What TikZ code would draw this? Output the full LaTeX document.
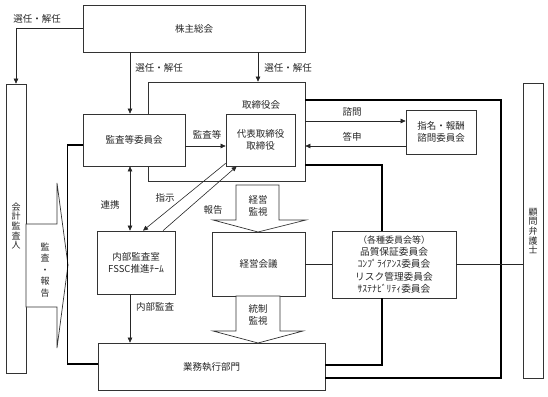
\documentclass[tikz,border=0pt]{standalone}
\usepackage{fontspec}
\setmainfont{Noto Sans CJK JP}
\usetikzlibrary{arrows.meta,calc}
\begin{document}
\begin{tikzpicture}[x=1pt,y=-1pt,
  every node/.style={text=black!85},
  base/.style={font=\fontsize{9.5}{12}\selectfont},
  box/.style={draw=black!80,line width=0.7pt,fill=white,inner sep=0pt,align=center,base},
  lbl/.style={inner sep=0pt,align=center,base},
  vtext/.style={inner sep=0pt,align=center,font=\fontsize{9}{9.6}\selectfont},
  ln/.style={draw=black!85,line width=0.6pt},
  arr/.style={ln,-{Triangle[length=5pt,width=4.5pt]}},
  dblarr/.style={ln,{Triangle[length=5pt,width=4.5pt]}-{Triangle[length=5pt,width=4.5pt]}},
  thk/.style={draw=black,line width=1.5pt},
  blk/.style={draw=black!80,line width=0.7pt,fill=white}
]
\useasboundingbox (0,0) rectangle (548,396);

% boxes
\node[box,minimum width=222pt,minimum height=47pt] (sh) at (194,28.5) {株主総会};
\node[box,minimum width=20pt,minimum height=289pt] (kaikei) at (16,228.5) {};
\node[vtext] (kaikeiT) at (16,226) {会\\計\\監\\査\\人};
\node[box,minimum width=157pt,minimum height=99pt] (tori) at (226.5,131.5) {};
\node[lbl] (toriT) at (261,105) {取締役会};
\node[box,minimum width=102pt,minimum height=52pt] (kansa) at (134,140) {監査等委員会};
\node[box,minimum width=69pt,minimum height=52pt] (daihyo) at (260.5,140) {代表取締役\\取締役};
\node[box,minimum width=70pt,minimum height=44pt] (shimei) at (441,132) {指名・報酬\\諮問委員会};
\node[box,minimum width=78pt,minimum height=63pt] (naibu) at (136,262.5) {内部監査室\\FSSC推進ﾁｰﾑ};
\node[box,minimum width=93pt,minimum height=64pt] (keiei) at (258.5,264) {経営会議};
\node[box,minimum width=124pt,minimum height=67pt,font=\fontsize{9.7}{12.3}\selectfont] (kakushu) at (394,264.5)
  {{\fontsize{9}{12.3}\selectfont （各種委員会等）}\\品質保証委員会\\ｺﾝﾌﾟﾗｲｱﾝｽ委員会\\リスク管理委員会\\ｻｽﾃﾅﾋﾞﾘﾃｨ委員会};
\node[box,minimum width=227pt,minimum height=47pt] (gyomu) at (211.5,366.5) {業務執行部門};
\node[box,minimum width=20pt,minimum height=295pt] (komon) at (533,230.5) {};
\node[vtext] (komonT) at (533,231) {顧\\問\\弁\\護\\士};

% block arrows
\draw[blk] (236,185) -- (279,185) -- (279,220) -- (306,220) -- (258,232) -- (213,220) -- (236,220) -- cycle;
\node[lbl] (keieikanshi) at (258,205.5) {経営\\監視};
\draw[blk] (236,296) -- (280,296) -- (280,331) -- (303,331) -- (258,343) -- (213,331) -- (236,331) -- cycle;
\draw[blk] (26,224) -- (57,224) -- (57,183) -- (68,265) -- (57,348) -- (57,307) -- (26,307) -- cycle;
\node[lbl] (toseikanshi) at (258,315) {統制\\監視};
\node[vtext,font=\fontsize{9}{11.4}\selectfont] (kansahoukoku) at (45,270) {監\\査\\・\\報\\告};

% arrows from shareholders
\draw[arr] (sh.west) -| (kaikei.north);
\node[lbl] (l1) at (37,19) {選任・解任};
\draw[arr] ([xshift=-4pt]kansa.north |- sh.south) -- ([xshift=-4pt]kansa.north);
\node[lbl] (l2) at (159,68) {選任・解任};
\draw[arr] (258,0 |- sh.south) -- (258,0 |- tori.north);
\node[lbl] (l3) at (288,68) {選任・解任};

% board relations
\draw[arr] ([yshift=-6pt]kansa.east) -- ([yshift=-6pt]kansa.east -| daihyo.west);
\node[lbl] (l4) at (207,135) {監査等};
\draw[arr] ([yshift=11pt]shimei.west -| tori.east) -- ([yshift=11pt]shimei.west);
\node[lbl] (l5) at (352,112) {諮問};
\draw[arr] ([yshift=-14pt]shimei.west) -- ([yshift=-14pt]shimei.west -| tori.east);
\node[lbl] (l6) at (352,137) {答申};

% internal audit
\draw[dblarr] ([xshift=-4pt]kansa.south) -- ([xshift=-4pt]kansa.south |- naibu.north);
\node[lbl] (l7) at (110,205) {連携};
\draw[arr] ([yshift=3pt]daihyo.south west) -- ([xshift=7pt]naibu.north);
\node[lbl] (l8) at (165,198) {指示};
\draw[arr] ([xshift=27pt]naibu.north) -- ([xshift=11pt]daihyo.south west);
\node[lbl] (l9) at (213,210) {報告};
\draw[arr] ([xshift=-6pt]naibu.south) -- ([xshift=-6pt]naibu.south |- gyomu.north);
\node[lbl] (l10) at (155,307) {内部監査};

% thick lines
\coordinate (rr) at (501,100);
\draw[thk] ([yshift=-5pt]kansa.west) -- ++(-15,0) |- ([yshift=2.5pt]gyomu.west);
\draw[thk] ([yshift=31.5pt]tori.east) -- (rr) |- ([yshift=-11.5pt]gyomu.east);
\draw[thk] ([yshift=-33.5pt]tori.east) -| ([xshift=-12pt]kakushu.north);
\draw[thk] ([xshift=-12pt]kakushu.south) |- ([yshift=1.5pt]gyomu.east);

% thin lines
\draw[ln] (keiei.east) -- (keiei.east -| kakushu.west);
\draw[ln] (kakushu.east) -- (kakushu.east -| komon.west);
\end{tikzpicture}
\end{document}
